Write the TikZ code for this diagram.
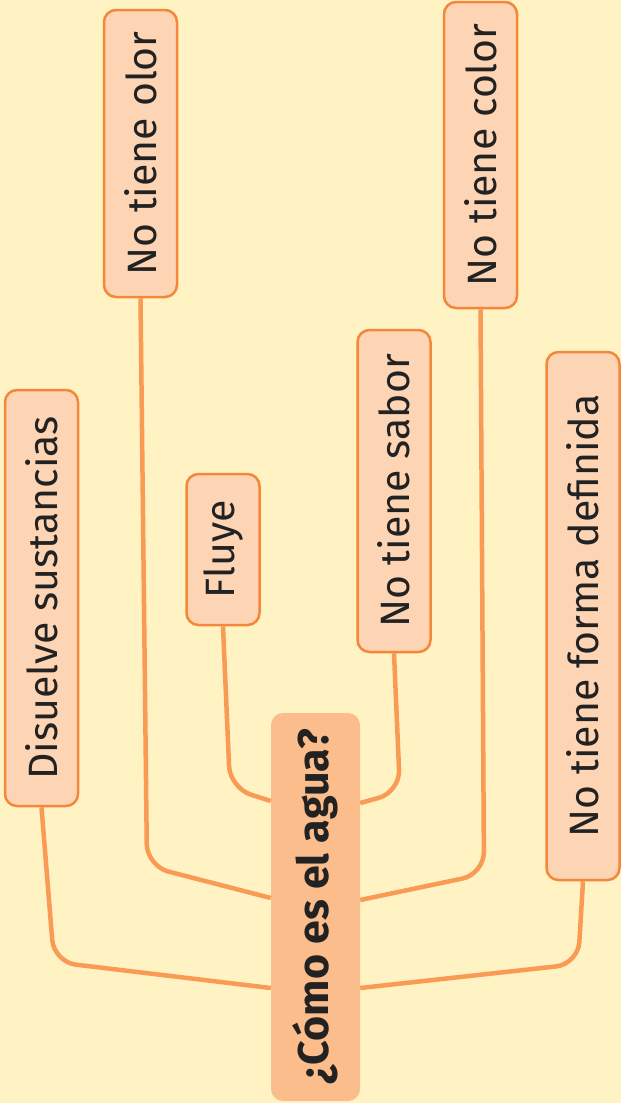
\documentclass[tikz,border=0pt]{standalone}
\usepackage{fontspec}
\setmainfont{Fira Sans}
\definecolor{bgyellow}{HTML}{FFF3C4}
\definecolor{leaffill}{HTML}{FDD5B5}
\definecolor{leafdraw}{HTML}{F5873A}
\definecolor{linkorange}{HTML}{F99A55}
\definecolor{rootfill}{HTML}{FBBD8C}
\definecolor{inktext}{HTML}{222222}
\begin{document}
\begin{tikzpicture}[x=1pt, y=-1pt, font=\fontsize{41}{48}\selectfont, text=inktext,
          leaf/.style={draw=leafdraw, line width=2.5pt, fill=leaffill, rounded corners=12pt, rotate=90, minimum height=73pt, inner sep=0pt},
          root/.style={fill=rootfill, rounded corners=12pt, rotate=90, minimum height=89pt, minimum width=388pt, inner sep=0pt, font=\fontsize{43}{48}\selectfont\bfseries},
          link/.style={draw=linkorange, line width=4.5pt, rounded corners=22pt}]
        \useasboundingbox[fill=bgyellow] (0,0) rectangle (621,1103);
        \node[root] (agua) at (315.5,907) {¿Cómo es el agua?};
        \node[leaf, minimum width=416pt] (disuelve) at (41.5,598) {Disuelve sustancias};
        \node[leaf, minimum width=287pt] (olor) at (140.5,153.5) {No tiene olor};
        \node[leaf, minimum width=151pt] (fluye) at (223,549.5) {Fluye};
        \node[leaf, minimum width=322pt] (sabor) at (394,491) {No tiene sabor};
        \node[leaf, minimum width=306pt] (color) at (480.5,155) {No tiene color};
        \node[leaf, minimum width=528pt] (forma) at (583,616) {No tiene forma definida};
        % ramas a la izquierda
        \draw[link] (fluye.west) -- (230,788) -- (agua.north |- 0,801);
        \draw[link] (olor.west) -- (147,866) -- (agua.north |- 0,898);
        \draw[link] (disuelve.west) -- (54,962) -- (agua.north |- 0,988);
        % ramas a la derecha
        \draw[link] (sabor.west) -- (400,792) -- (agua.south |- 0,803);
        \draw[link] (color.west) -- (484,874) -- (agua.south |- 0,900);
        \draw[link] (forma.west) -- (578,964) -- (agua.south |- 0,988);
      \end{tikzpicture}
\end{document}
